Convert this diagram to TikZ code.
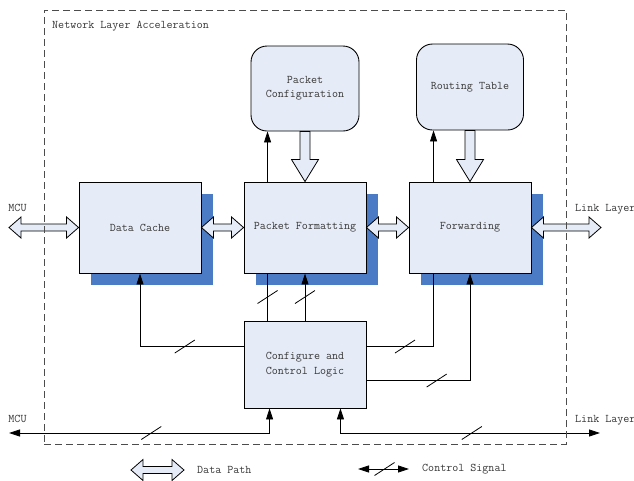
\documentclass[tikz,border=0pt]{standalone}
\usetikzlibrary{arrows.meta,calc,shadows}
\definecolor{boxfill}{HTML}{E6ECF7}
\definecolor{shadowblue}{HTML}{4A7BC4}
\definecolor{txt}{HTML}{383838}

% horizontal hollow double-headed data arrow between two points
\newcommand\dataarrowH[2]{%
  \draw[dpath] let \p1=#1, \p2=#2 in
    (\x1,\y1) -- (\x1+12pt,\y1+10.5pt) -- (\x1+12pt,\y1+3.5pt)
    -- (\x2-12pt,\y1+3.5pt) -- (\x2-12pt,\y1+10.5pt) -- (\x2,\y1)
    -- (\x2-12pt,\y1-10.5pt) -- (\x2-12pt,\y1-3.5pt)
    -- (\x1+12pt,\y1-3.5pt) -- (\x1+12pt,\y1-10.5pt) -- cycle;}
% vertical hollow single-headed data arrow, pointing down
\newcommand\dataarrowV[2]{%
  \draw[dpath] let \p1=#1, \p2=#2 in
    (\x1-5pt,\y1) -- (\x1+5pt,\y1) -- (\x1+5pt,\y2+22pt)
    -- (\x1+13.5pt,\y2+22pt) -- (\x1,\y2) -- (\x1-13.5pt,\y2+22pt)
    -- (\x1-5pt,\y2+22pt) -- cycle;}

\tikzset{
  every node/.style={font=\fontsize{11.7}{14}\selectfont\ttfamily, text=txt},
  block/.style={draw=black, line width=0.9pt, fill=boxfill,
    minimum width=122pt, minimum height=91pt, inner sep=0pt, align=center},
  shadowed/.style={drop shadow={shadow xshift=12pt, shadow yshift=-12pt,
    fill=shadowblue, opacity=1}},
  store/.style={draw=black, line width=0.9pt, fill=boxfill, rounded corners=16pt,
    inner sep=0pt, align=center},
  frame/.style={draw=black!70, line width=0.9pt, dash pattern=on 7pt off 4pt},
  dpath/.style={draw=black, line width=0.8pt, fill=boxfill, line join=miter},
  ctrl/.style={draw=black, line width=0.8pt},
  tip/.tip={Triangle[length=11pt,width=7pt]},
  cslash/.pic={\draw[line width=0.8pt] (-10,6.5) -- (10,-6.5);}
}

\begin{document}
\begin{tikzpicture}[x=1pt,y=-1pt]
\useasboundingbox (0,0) rectangle (634,480);

% functional blocks
\node[block, shadowed] (dc) at (140,227.5) {Data Cache};
\node[block, shadowed] (pf) at (305,227.5) {Packet Formatting};
\node[block, shadowed] (fw) at (470,227.5) {Forwarding};
\node[block, minimum height=87pt] (ccl) at (305,364.5) {Configure and\\[1pt]Control Logic};
\node[store, minimum width=108pt, minimum height=85pt] (pc) at (305,88.5) {Packet\\Configuration};
\node[store, minimum width=107pt, minimum height=86pt] (rt) at (470,87) {Routing Table};

% free ends of the external links
\coordinate (mcuL) at (9,227.5);
\coordinate (lnkL) at (601,227.5);
\coordinate (mcuB) at (9,433);
\coordinate (lnkB) at (600,433);

% data paths
\dataarrowH{(mcuL)}{(dc.west)}
\dataarrowH{(dc.east)}{(pf.west)}
\dataarrowH{(pf.east)}{(fw.west)}
\dataarrowH{(fw.east)}{(lnkL)}
\dataarrowV{(pc.south)}{(pf.north)}
\dataarrowV{(rt.south)}{(fw.north)}

% control signals
\coordinate (pfT) at ([shift={(24,0)}]pf.north west);
\coordinate (fwT) at ([shift={(25,0)}]fw.north west);
\draw[ctrl,-tip] (pfT) -- (pfT |- pc.south);
\draw[ctrl,-tip] (fwT) -- (fwT |- rt.south);

\draw[ctrl] ([shift={(24,0)}]ccl.north west) -- ([shift={(24,0)}]pf.south west)
  coordinate[pos=0.5] (s1);
\draw[ctrl,-tip] (ccl.north) -- (pf.south) coordinate[pos=0.5] (s2);
\draw[ctrl,-tip] ([shift={(0,26)}]ccl.north west) -| (dc.south)
  coordinate[pos=0.284] (s3);
\draw[ctrl] ([shift={(0,26)}]ccl.north east) -| ([shift={(25,0)}]fw.south west)
  coordinate[pos=0.287] (s4);
\draw[ctrl,-tip] ([shift={(0,60)}]ccl.north east) -| (fw.south)
  coordinate[pos=0.339] (s5);
\draw[ctrl,tip-tip] ([shift={(26,0)}]ccl.south west) |- (mcuB)
  coordinate[pos=0.727] (s6);
\draw[ctrl,tip-tip] ([shift={(-26,0)}]ccl.south east) |- (lnkB)
  coordinate[pos=0.753] (s7);
\foreach \s in {s1,s2,s3,s4,s5,s6,s7} \pic at (\s) {cslash};

% external labels
\node (mcuT) at (17.5,208) {MCU};
\node[anchor=west, inner sep=0pt] (lnkT) at (575,209) {Link Layer};
\node (mcuBt) at (17.5,419) {MCU};
\node[anchor=west, inner sep=0pt] (lnkBt) at (575,420) {Link Layer};

% enclosing boundary
\node[frame, minimum width=522pt, minimum height=434pt, inner sep=0pt] (nla) at (305,227) {};
\node[anchor=west, inner sep=0pt] (nlaT) at (52,26) {Network Layer Acceleration};

% legend
\coordinate (lgA) at (131,470);
\coordinate (lgB) at (184,470);
\dataarrowH{(lgA)}{(lgB)}
\node[anchor=west, inner sep=0pt] (lgD) at (197,470) {Data Path};
\coordinate (lcA) at (358,469);
\coordinate (lcB) at (409,469);
\draw[ctrl,tip-tip] (lcA) -- (lcB) coordinate[pos=0.52] (s8);
\pic at (s8) {cslash};
\node[anchor=west, inner sep=0pt] (lgC) at (422,469) {Control Signal};
\end{tikzpicture}
\end{document}
